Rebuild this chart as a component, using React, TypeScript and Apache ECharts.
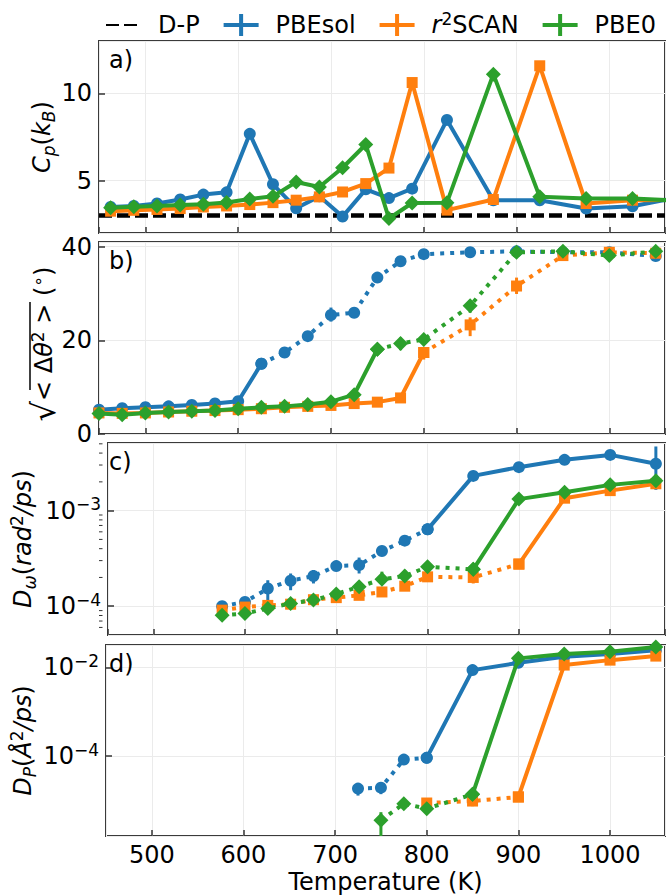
import React, { useEffect, useRef } from 'react';
import * as echarts from 'echarts';

const FF = 'DejaVu Sans';
const BLUE = '#1f77b4';
const ORANGE = '#ff7f0e';
const GREEN = '#2ca02c';

// ---- Panel a: heat capacity (midpoint temperatures) ----
const tempsA = [462.5, 487.5, 512.5, 537.5, 562.5, 587.5, 612.5, 637.5, 662.5, 687.5, 712.5, 737.5, 762.5, 787.5, 825, 875, 925, 975, 1025, 1075];
const cpPBEsol = [3.49, 3.55, 3.69, 3.92, 4.2, 4.33, 7.68, 4.79, 3.42, 4.1, 2.94, 4.5, 4.0, 4.54, 8.48, 3.88, 3.88, 3.4, 3.53, 4.05];
const cpR2SCAN = [3.25, 3.3, 3.35, 3.4, 3.49, 3.55, 3.63, 3.74, 3.88, 4.07, 4.35, 4.83, 5.72, 10.62, 3.31, 3.92, 11.58, 3.69, 3.88, 3.9];
const cpPBE0 = [3.45, 3.5, 3.55, 3.6, 3.65, 3.75, 3.95, 4.1, 4.92, 4.64, 5.74, 7.07, 2.83, 3.72, 3.74, 11.1, 4.07, 3.97, 3.97, 3.85];
const dulongPetit = 3;

// ---- Panel b: RMS angular displacement ----
const tempsB = [450, 475, 500, 525, 550, 575, 600, 625, 650, 675, 700, 725, 750, 775, 800, 850, 900, 950, 1000, 1050];
const thPBEsol = [5.2, 5.5, 5.7, 5.9, 6.2, 6.5, 7.0, 15.0, 17.4, 20.9, 25.4, 25.9, 33.4, 36.9, 38.4, 38.8, 39.0, 38.8, 38.8, 38.0];
const thR2SCAN = [4.5, 4.4, 4.5, 4.7, 4.86, 5.0, 5.2, 5.4, 5.7, 5.9, 6.1, 6.5, 6.8, 7.7, 17.4, 23.3, 31.6, 38.1, 38.8, 38.6];
const thPBE0 = [4.36, 4.1, 4.5, 4.7, 4.86, 5.0, 5.4, 5.7, 5.9, 6.3, 6.9, 8.4, 18.1, 19.3, 20.2, 27.4, 38.8, 39.0, 38.1, 39.0];

// ---- Panel c: rotational diffusion ----
const tempsC = [575, 600, 625, 650, 675, 700, 725, 750, 775, 800, 850, 900, 950, 1000, 1050];
const dwPBEsol = [1.0e-4, 1.11e-4, 1.53e-4, 1.85e-4, 2.07e-4, 2.63e-4, 2.69e-4, 3.78e-4, 4.85e-4, 6.37e-4, 2.31e-3, 2.85e-3, 3.4e-3, 3.83e-3, 3.09e-3];
const dwR2SCAN = [9.1e-5, 9.8e-5, 1.02e-4, 1.05e-4, 1.17e-4, 1.23e-4, 1.3e-4, 1.41e-4, 1.62e-4, 2.03e-4, 2.0e-4, 2.76e-4, 1.35e-3, 1.62e-3, 1.91e-3];
const dwPBE0 = [8.05e-5, 8.4e-5, 9.46e-5, 1.07e-4, 1.16e-4, 1.34e-4, 1.6e-4, 1.91e-4, 2.07e-4, 2.59e-4, 2.43e-4, 1.32e-3, 1.56e-3, 1.86e-3, 2.06e-3];

// ---- Panel d: translational diffusion ----
const tempsDPBEsol = [725, 750, 775, 800, 850, 900, 950, 1000, 1050];
const dpPBEsol = [1.87e-5, 1.96e-5, 8.4e-5, 9.2e-5, 8.7e-3, 1.27e-2, 1.74e-2, 2.0e-2, 2.45e-2];
const tempsDR2SCAN = [800, 850, 900, 950, 1000, 1050];
const dpR2SCAN = [8.85e-6, 9.8e-6, 1.21e-5, 1.13e-2, 1.46e-2, 1.8e-2];
const tempsDPBE0 = [750, 775, 800, 850, 900, 950, 1000, 1050];
const dpPBE0 = [3.6e-6, 8.55e-6, 6.6e-6, 1.39e-5, 1.6e-2, 2.0e-2, 2.25e-2, 2.9e-2];

// ---- error bars [T, low, high] ----
const errB_PBEsol = [[625, 13.9, 16.0], [700, 24.0, 27.0]];
const errB_R2SCAN = [[800, 15.9, 18.6], [850, 20.9, 24.9], [900, 29.9, 33.4]];
const errB_PBE0 = [[775, 17.9, 20.6], [850, 25.9, 28.6]];
const errC_PBEsol = [[625, 1.16e-4, 1.87e-4], [650, 1.47e-4, 2.2e-4], [675, 1.73e-4, 2.39e-4], [725, 2.2e-4, 3.23e-4], [1050, 1.65e-3, 4.69e-3]];
const errC_R2SCAN = [[850, 1.73e-4, 2.3e-4], [1050, 1.7e-3, 2.1e-3]];
const errC_PBE0 = [[750, 1.7e-4, 2.3e-4], [775, 1.8e-4, 2.4e-4]];
const errD_PBEsol = [[725, 1.3e-5, 2.4e-5], [750, 1.4e-5, 2.5e-5]];
const errD_R2SCAN = [[850, 7.5e-6, 1.2e-5]];
const errD_PBE0 = [[750, 1.4e-6, 5.5e-6], [800, 5e-6, 8.5e-6]];

const minorTicksC = [6e-5, 7e-5, 8e-5, 9e-5, 2e-4, 3e-4, 4e-4, 5e-4, 6e-4, 7e-4, 8e-4, 9e-4, 2e-3, 3e-3, 4e-3, 5e-3];

const panelLabels = ['a)', 'b)', 'c)', 'd)'];

const METHODS = [
  { name: 'PBEsol', color: BLUE, symbol: 'circle', size: 12 },
  { name: 'r2SCAN', color: ORANGE, symbol: 'rect', size: 11 },
  { name: 'PBE0', color: GREEN, symbol: 'diamond', size: 15 },
];

const GRID_TOPS = [41, 242, 443, 645];
const GRID_H = 192;
const GRID_LEFT = 99;

const rich = {
  n: { fontSize: 24, fontFamily: FF, color: '#000', lineHeight: 30 },
  it: { fontSize: 24, fontFamily: FF, fontStyle: 'italic', color: '#000', lineHeight: 30 },
  sub: { fontSize: 17, fontFamily: FF, fontStyle: 'italic', color: '#000', lineHeight: 17, verticalAlign: 'bottom' },
  sup: { fontSize: 17, fontFamily: FF, color: '#000', lineHeight: 17, verticalAlign: 'top' },
  sq: { fontSize: 32, fontFamily: FF, color: '#000', lineHeight: 30 },
};

function lineSeries(panel: number, mi: number, temps: number[], vals: number[], from: number, to: number, dotted: boolean) {
  const m = METHODS[mi];
  const data: number[][] = [];
  for (let i = from; i <= to; i++) data.push([temps[i], vals[i]]);
  return {
    type: 'line',
    name: m.name,
    xAxisIndex: panel,
    yAxisIndex: panel,
    data,
    symbol: m.symbol,
    symbolSize: m.size,
    showSymbol: true,
    clip: true,
    itemStyle: { color: m.color },
    lineStyle: { color: m.color, width: 4, type: dotted ? [4, 6] : 'solid', cap: 'butt' },
    emphasis: { disabled: true },
    z: 3 + mi,
  };
}

function errSeries(panel: number, mi: number, data: number[][]) {
  const color = METHODS[mi].color;
  return {
    type: 'custom',
    xAxisIndex: panel,
    yAxisIndex: panel,
    data,
    clip: true,
    silent: true,
    z: 2 + mi,
    encode: { x: 0, y: [1, 2] },
    renderItem: (params: any, api: any) => {
      const p1 = api.coord([api.value(0), api.value(1)]);
      const p2 = api.coord([api.value(0), api.value(2)]);
      return {
        type: 'line',
        shape: { x1: p1[0], y1: p1[1], x2: p2[0], y2: p2[1] },
        style: { stroke: color, lineWidth: 3 },
      };
    },
  };
}

function twoPart(panel: number, mi: number, temps: number[], vals: number[], k: number, firstDotted: boolean) {
  return [
    lineSeries(panel, mi, temps, vals, 0, k, firstDotted),
    lineSeries(panel, mi, temps, vals, k, temps.length - 1, !firstDotted),
  ];
}

const logFmt = (v: number) => {
  const e = Math.round(Math.log10(v));
  return '10{sup|' + (e < 0 ? '\u2212' : '') + Math.abs(e) + '}';
};

export default function App() {
  const ref = useRef<HTMLDivElement>(null);
  useEffect(() => {
    document.body.style.margin = '0';
    if (!ref.current) return;
    const chart = echarts.init(ref.current, null, { renderer: 'svg' });

    const crossIcon = 'path://M0,9L35,9L35,13L0,13Z M15.5,0L19.5,0L19.5,22L15.5,22Z';

    const grids = GRID_TOPS.map((t) => ({
      left: GRID_LEFT,
      right: 1,
      top: t,
      height: GRID_H,
      show: true,
      borderColor: '#3a3a3a',
      borderWidth: 2,
      backgroundColor: 'transparent',
    }));

    const xAxes = GRID_TOPS.map((_, i) => ({
      type: 'value',
      gridIndex: i,
      min: 450,
      max: 1060,
      axisLine: { show: false },
      axisTick: { show: true, inside: true, length: 6, lineStyle: { color: '#333', width: 1.5 } },
      axisLabel: {
        show: i === 3, fontSize: 24, fontFamily: FF, color: '#000', margin: 8, lineHeight: 22,
        showMinLabel: false, showMaxLabel: false, formatter: (v: number) => String(v),
      },
      splitLine: { show: true, lineStyle: { color: '#ebebeb', width: 1 } },
      name: i === 3 ? 'Temperature (K)' : '',
      nameLocation: 'middle',
      nameGap: 34,
      nameMoveOverlap: false,
      nameTextStyle: { fontSize: 24, fontFamily: FF, color: '#000', lineHeight: 24 },
    }));

    const yCommon = {
      axisLine: { show: false },
      axisTick: { show: true, inside: true, length: 6, lineStyle: { color: '#333', width: 1.5 } },
      splitLine: { show: true, lineStyle: { color: '#ebebeb', width: 1 } },
      nameLocation: 'middle',
      nameRotate: 90,
      nameMoveOverlap: false,
    };

    const yAxes = [
      {
        ...yCommon,
        type: 'value',
        gridIndex: 0,
        min: 2,
        max: 13,
        splitNumber: 2,
        axisLabel: { fontSize: 24, fontFamily: FF, color: '#000', margin: 7, showMinLabel: false, showMaxLabel: false },
        name: '{it|C}{sub|p}{n|(}{it|k}{sub|B}{n|)}',
        nameGap: 42,
        nameTextStyle: { rich },
      },
      {
        ...yCommon,
        type: 'value',
        gridIndex: 1,
        min: 0,
        max: 41,
        splitNumber: 2,
        axisLabel: { fontSize: 24, fontFamily: FF, color: '#000', margin: 7, showMinLabel: true, showMaxLabel: false },
        name: '{sq|\u221A}{n|< \u0394}{it|\u03B8}{sup|2}{n| > (}{sup|\u2218}{n|)}',
        nameGap: 40,
        nameTextStyle: { rich, padding: [0, 12, 0, 0] },
      },
      {
        ...yCommon,
        type: 'log',
        logBase: 10,
        gridIndex: 2,
        min: 5e-5,
        max: 5.1e-3,
        axisLabel: { fontSize: 24, fontFamily: FF, color: '#000', margin: 7, lineHeight: 30, showMinLabel: false, showMaxLabel: false, formatter: logFmt, rich: { sup: rich.sup } },
        name: '{it|D}{sub|\u03C9}{n|(}{it|rad}{sup|2}{it|/ps}{n|)}',
        nameGap: 70,
        nameTextStyle: { rich },
      },
      {
        ...yCommon,
        type: 'log',
        logBase: 100,
        gridIndex: 3,
        min: 1.6e-6,
        max: 3.2e-2,
        axisLabel: { fontSize: 24, fontFamily: FF, color: '#000', margin: 7, lineHeight: 30, showMinLabel: false, showMaxLabel: false, formatter: logFmt, rich: { sup: rich.sup } },
        name: '{it|D}{sub|P}{n|(}{it|\u00C5}{sup|2}{it|/ps}{n|)}',
        nameGap: 68,
        nameTextStyle: { rich },
      },
    ];

    const series: any[] = [
      {
        type: 'line',
        name: 'D-P',
        xAxisIndex: 0,
        yAxisIndex: 0,
        data: [[450, dulongPetit], [1060, dulongPetit]],
        symbol: 'none',
        lineStyle: { color: '#000', width: 4.5, type: [13, 5], cap: 'butt' },
        itemStyle: { color: '#000' },
        emphasis: { disabled: true },
        z: 2,
      },
      lineSeries(0, 0, tempsA, cpPBEsol, 0, tempsA.length - 1, false),
      lineSeries(0, 1, tempsA, cpR2SCAN, 0, tempsA.length - 1, false),
      lineSeries(0, 2, tempsA, cpPBE0, 0, tempsA.length - 1, false),

      ...twoPart(1, 0, tempsB, thPBEsol, 7, false),
      ...twoPart(1, 1, tempsB, thR2SCAN, 14, false),
      ...twoPart(1, 2, tempsB, thPBE0, 12, false),
      errSeries(1, 0, errB_PBEsol),
      errSeries(1, 1, errB_R2SCAN),
      errSeries(1, 2, errB_PBE0),

      ...twoPart(2, 0, tempsC, dwPBEsol, 9, true),
      ...twoPart(2, 1, tempsC, dwR2SCAN, 11, true),
      ...twoPart(2, 2, tempsC, dwPBE0, 10, true),
      errSeries(2, 0, errC_PBEsol),
      errSeries(2, 1, errC_R2SCAN),
      errSeries(2, 2, errC_PBE0),

      ...twoPart(3, 0, tempsDPBEsol, dpPBEsol, 3, true),
      ...twoPart(3, 1, tempsDR2SCAN, dpR2SCAN, 2, true),
      ...twoPart(3, 2, tempsDPBE0, dpPBE0, 3, true),
      errSeries(3, 0, errD_PBEsol),
      errSeries(3, 1, errD_R2SCAN),
      errSeries(3, 2, errD_PBE0),
    ];

    const labelGraphics: any[] = panelLabels.map((t, i) => ({
      type: 'text',
      id: 'lab' + i,
      x: 109,
      y: GRID_TOPS[i] + 19,
      z: 20,
      style: { text: t, fontSize: 24, fontFamily: FF, fill: '#000', verticalAlign: 'middle' },
    }));

    // overline of the square root in panel b's axis title
    const bMid = GRID_TOPS[1] + GRID_H / 2;
    labelGraphics.push({
      type: 'line',
      id: 'sqrtbar',
      z: 20,
      shape: { x1: 30, y1: bMid - 36, x2: 30, y2: bMid + 52 },
      style: { stroke: '#000', lineWidth: 1.5 },
    });

    chart.setOption({
      animation: false,
      backgroundColor: '#fff',
      textStyle: { fontFamily: FF },
      legend: {
        left: 100,
        top: 5,
        itemWidth: 35,
        itemHeight: 22,
        itemGap: 24,
        selectedMode: false,
        textStyle: {
          fontSize: 24,
          fontFamily: FF,
          color: '#000',
          padding: [0, 0, 0, 12],
          rich: {
            i: { fontSize: 24, fontFamily: FF, fontStyle: 'italic', color: '#000', lineHeight: 30 },
            s: { fontSize: 17, fontFamily: FF, color: '#000', lineHeight: 17, verticalAlign: 'top' },
            t: { fontSize: 24, fontFamily: FF, color: '#000', lineHeight: 30 },
          },
        },
        formatter: (n: string) => (n === 'r2SCAN' ? '{i|r}{s|2}{t|SCAN}' : n),
        data: [
          { name: 'D-P', itemStyle: { color: 'rgba(0,0,0,0)', borderWidth: 0 } },
          { name: 'PBEsol', icon: crossIcon },
          { name: 'r2SCAN', icon: crossIcon },
          { name: 'PBE0', icon: crossIcon },
        ],
      },
      grid: grids,
      xAxis: xAxes,
      yAxis: yAxes,
      series,
      graphic: labelGraphics,
    });

    const minorEls = minorTicksC.map((v, i) => {
      const y = chart.convertToPixel({ yAxisIndex: 2 } as any, v) as number;
      return {
        type: 'line',
        id: 'mt' + i,
        z: 20,
        shape: { x1: GRID_LEFT, y1: y, x2: GRID_LEFT + 3.5, y2: y },
        style: { stroke: '#333', lineWidth: 1 },
      };
    });
    chart.setOption({ graphic: [...labelGraphics, ...minorEls] });

    return () => chart.dispose();
  }, []);
  return <div ref={ref} style={{ width: 666, height: 895 }} />;
}
